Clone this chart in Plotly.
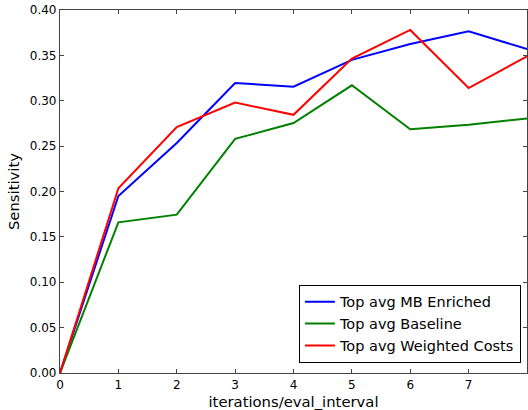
import plotly.graph_objects as go

iterations = [0, 1, 2, 3, 4, 5, 6, 7, 8]
mb_enriched = [0.0, 0.195, 0.2535, 0.3195, 0.3155, 0.345, 0.3625, 0.3765, 0.357]
baseline = [0.0, 0.166, 0.1745, 0.258, 0.2755, 0.317, 0.2685, 0.2735, 0.2805]
weighted_costs = [0.0, 0.2035, 0.271, 0.298, 0.2845, 0.3465, 0.378, 0.314, 0.349]

series = [
    ("Top avg MB Enriched", mb_enriched, "#0000ff"),
    ("Top avg Baseline", baseline, "#008000"),
    ("Top avg Weighted Costs", weighted_costs, "#ff0000"),
]

fig = go.Figure()
for name, vals, color in series:
    fig.add_trace(go.Scatter(x=iterations, y=vals, mode="lines", name=name,
                             line=dict(color=color, width=2)))

axis_common = dict(
    showgrid=False, zeroline=False, showline=True, linecolor="#444", linewidth=1.2,
    mirror="ticks", ticks="inside", ticklen=4, tickcolor="#444", tickwidth=1,
    tickfont=dict(family="DejaVu Sans", size=12, color="black"),
)

fig.update_layout(
    width=528, height=410,
    margin=dict(l=60, r=1, t=10, b=37),
    paper_bgcolor="white", plot_bgcolor="white",
    font=dict(family="DejaVu Sans", color="black"),
    xaxis=dict(range=[0, 8], tickvals=iterations,
               title=dict(text="iterations/eval_interval", font=dict(size=14.8), standoff=6), **axis_common),
    yaxis=dict(range=[0, 0.40], tickvals=[0, 0.05, 0.10, 0.15, 0.20, 0.25, 0.30, 0.35, 0.40],
               ticktext=["0.00", "0.05", "0.10", "0.15", "0.20", "0.25", "0.30", "0.35", "0.40"],
               title=dict(text="Sensitivity", font=dict(size=14.8), standoff=6), **axis_common),
    legend=dict(x=0.987, y=0.028, xanchor="right", yanchor="bottom",
                bordercolor="black", borderwidth=1, bgcolor="white",
                font=dict(family="DejaVu Sans", size=14.5, color="black"),
                tracegroupgap=0),
    showlegend=True,
)

fig.write_html("out.html", config={"displayModeBar": False},
               post_script="document.body.style.margin='0';document.body.style.overflow='hidden';")
